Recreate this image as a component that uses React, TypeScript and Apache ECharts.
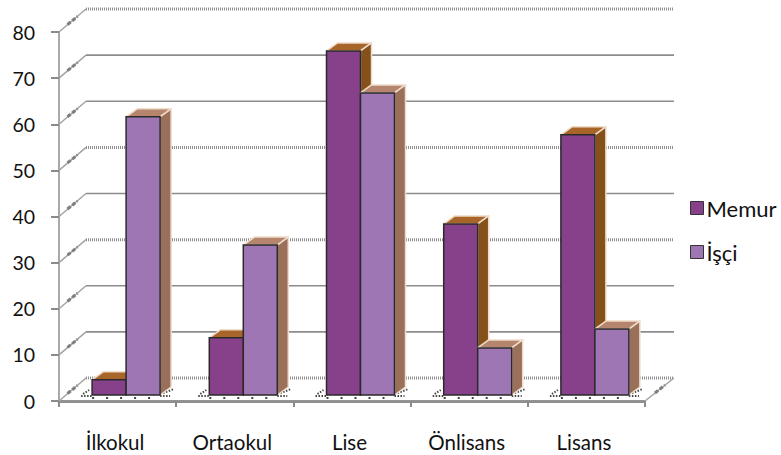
import React, { useEffect, useRef } from "react";
import * as echarts from "echarts";

const categories = ["İlkokul", "Ortaokul", "Lise", "Önlisans", "Lisans"];
const memur = [3.3, 12.4, 74.6, 37.1, 56.4];
const isci = [60.3, 32.5, 65.5, 10.2, 14.3];
const yTicks = [0, 10, 20, 30, 40, 50, 60, 70, 80];
const jaggedTicks = [0, 30, 50, 80];

const FONT = "Lato, 'Open Sans', sans-serif";
const GRID = "#8c8c8c";
const WALL_DX = 27;
const WALL_DY = -23;
const BAR_W = 34;
const GROUP_SHIFT = 8.5;
const BASE_LIFT = 6;
const DEPTH_X = 11;
const DEPTH_Y = -8;

function gridItem(params: any, api: any) {
  const v = api.value(0);
  const cs = params.coordSys;
  const y = api.coord([0, v])[1];
  const x0 = cs.x;
  const x1 = cs.x + cs.width;
  const jag = jaggedTicks.includes(v);
  const mx = x0 + WALL_DX * 0.5;
  const my = y + WALL_DY * 0.5;
  const children: any[] = [
    {
      type: "line",
      shape: { x1: x0, y1: y, x2: x0 + WALL_DX, y2: y + WALL_DY },
      style: { stroke: "#a3a3a3", lineWidth: 1.5 },
    },
    {
      type: "line",
      shape: { x1: mx - 5, y1: my + 4, x2: mx + 5, y2: my - 4 },
      style: { stroke: "#7f7f7f", lineWidth: 3, lineDash: [4, 2] },
    },
    {
      type: "line",
      shape: { x1: x0 + WALL_DX, y1: y + WALL_DY, x2: x1 + WALL_DX + 2, y2: y + WALL_DY },
      style: jag
        ? { stroke: "#8f8f8f", lineWidth: 3, lineDash: [1, 1] }
        : { stroke: GRID, lineWidth: 1.6 },
    },
  ];
  if (v === 0) {
    children.push({
      type: "line",
      shape: { x1: x1, y1: y, x2: x1 + WALL_DX + 2, y2: y + WALL_DY },
      style: { stroke: "#a3a3a3", lineWidth: 1.5 },
    });
    children.push({
      type: "line",
      shape: { x1: x1 + 10, y1: y - 8, x2: x1 + 20, y2: y - 16 },
      style: { stroke: "#7f7f7f", lineWidth: 3, lineDash: [4, 2] },
    });
  }
  return { type: "group", children };
}

function floorItem(params: any, api: any) {
  const idx = api.value(0);
  const c = api.coord([idx, 0]);
  const cx = c[0] + GROUP_SHIFT;
  const y = c[1] - BASE_LIFT + 1;
  const dots = { stroke: "#444", lineWidth: 2, lineDash: [1.5, 1.5] };
  const children: any[] = [
    { type: "line", shape: { x1: cx - BAR_W - 11, y1: y, x2: cx - BAR_W, y2: y }, style: dots },
    { type: "line", shape: { x1: cx - BAR_W - 9, y1: y - 2, x2: cx - BAR_W - 3, y2: y - 6 }, style: dots },
    { type: "line", shape: { x1: cx + BAR_W, y1: y, x2: cx + BAR_W + 10, y2: y }, style: dots },
    { type: "line", shape: { x1: cx + BAR_W + 3, y1: y - 3, x2: cx + BAR_W + 14, y2: y - 7 }, style: dots },
    { type: "line", shape: { x1: cx - BAR_W, y1: y + 2, x2: cx + BAR_W, y2: y + 2 }, style: { stroke: "#444", lineWidth: 2, lineDash: [2, 12] } },
  ];
  return { type: "group", children };
}

function barRenderer(side: number, front: string, top: string, right: string) {
  return (params: any, api: any) => {
    const idx = api.value(0);
    const val = api.value(1);
    const base = api.coord([idx, 0]);
    const head = api.coord([idx, val]);
    const cx = base[0] + GROUP_SHIFT;
    const xL = side < 0 ? cx - BAR_W : cx;
    const xR = xL + BAR_W;
    const yB = base[1] - BASE_LIFT;
    const yT = head[1] - BASE_LIFT;
    const halo = { stroke: "#f0dccb", lineWidth: 1.5, lineJoin: "round" };
    return {
      type: "group",
      children: [
        {
          type: "polygon",
          shape: { points: [[xL, yT], [xR, yT], [xR + DEPTH_X, yT + DEPTH_Y], [xL + DEPTH_X, yT + DEPTH_Y]] },
          style: { fill: top, ...halo },
        },
        {
          type: "polygon",
          shape: { points: [[xR, yT], [xR + DEPTH_X, yT + DEPTH_Y], [xR + DEPTH_X, yB + DEPTH_Y], [xR, yB]] },
          style: { fill: right, ...halo },
        },
        {
          type: "rect",
          shape: { x: xL, y: yT, width: BAR_W, height: yB - yT },
          style: { fill: front, stroke: "#2a2a2a", lineWidth: 1.5 },
        },
      ],
    };
  };
}

export default function App() {
  const ref = useRef<HTMLDivElement>(null);
  useEffect(() => {
    const chart = echarts.init(ref.current!, undefined, { renderer: "svg" });
    chart.setOption({
      animation: false,
      backgroundColor: "#ffffff",
      textStyle: { fontFamily: FONT },
      grid: { left: 59, right: 136, top: 32, bottom: 54 },
      legend: {
        orient: "vertical",
        left: 685,
        top: 192,
        itemWidth: 13,
        itemHeight: 13,
        itemGap: 22,
        textStyle: { fontFamily: FONT, fontSize: 22, color: "#111", padding: [0, 0, 0, -2] },
        data: [
          { name: "Memur", icon: "rect", itemStyle: { color: "#87418a", borderColor: "#333", borderWidth: 1 } },
          { name: "İşçi", icon: "rect", itemStyle: { color: "#9f76b4", borderColor: "#333", borderWidth: 1 } },
        ],
      },
      xAxis: {
        type: "category",
        data: categories,
        boundaryGap: true,
        axisLine: { lineStyle: { color: "#8f8f8f", width: 3, type: [1, 1] } },
        axisTick: { show: true, length: 6, lineStyle: { color: "#8a8a8a", width: 2 } },
        axisLabel: { margin: 30, fontSize: 20.5, color: "#111", fontFamily: FONT, padding: [0, 5, 0, 0] },
      },
      yAxis: {
        type: "value",
        min: 0,
        max: 80,
        interval: 10,
        splitLine: { show: false },
        axisLine: { show: true, lineStyle: { color: "#8c8c8c", width: 1.5 } },
        axisTick: { show: true, length: 8, lineStyle: { color: "#8a8a8a", width: 2 } },
        axisLabel: { margin: 24, fontSize: 19.5, color: "#111", fontFamily: FONT },
      },
      series: [
        {
          type: "custom",
          name: "grid",
          data: yTicks.map((v) => [v]),
          encode: { y: 0 },
          renderItem: gridItem,
          clip: false,
          silent: true,
          z: 1,
        },
        {
          type: "custom",
          name: "floor",
          data: categories.map((_, i) => [i]),
          encode: { x: 0 },
          renderItem: floorItem,
          clip: false,
          silent: true,
          z: 2,
        },
        {
          type: "custom",
          name: "Memur",
          data: memur.map((v, i) => [i, v]),
          encode: { x: 0, y: 1 },
          itemStyle: { color: "#87418a" },
          renderItem: barRenderer(-1, "#87418a", "#a8652a", "#85501a"),
          clip: false,
          z: 3,
        },
        {
          type: "custom",
          name: "İşçi",
          data: isci.map((v, i) => [i, v]),
          encode: { x: 0, y: 1 },
          itemStyle: { color: "#9f76b4" },
          renderItem: barRenderer(1, "#9f76b4", "#b5856d", "#9a705a"),
          clip: false,
          z: 4,
        },
      ],
    });
    return () => chart.dispose();
  }, []);
  return <div ref={ref} style={{ position: "absolute", left: 0, top: 0, width: 781, height: 455 }} />;
}
